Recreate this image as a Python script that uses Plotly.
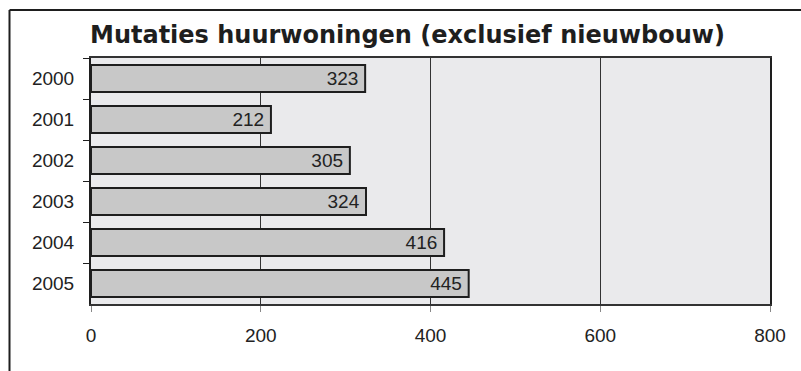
import plotly.graph_objects as go

# Data
years = ["2000", "2001", "2002", "2003", "2004", "2005"]
mutaties = [323, 212, 305, 324, 416, 445]
x_ticks = [0, 200, 400, 600, 800]

W, H = 801, 371
ML, MR, MT, MB = 91, 31, 58, 67
plot_w = W - ML - MR
plot_h = H - MT - MB


def px_to_paper_x(px):
    return (px - ML) / plot_w


def py_to_paper_y(py):
    return (H - MB - py) / plot_h


fig = go.Figure(
    go.Bar(
        y=years,
        x=mutaties,
        orientation="h",
        marker=dict(color="#C8C8C8", line=dict(color="#1E1E1E", width=2)),
        # thin trailing space keeps the value clear of the bar end
        text=[f"{v}\u2009" for v in mutaties],
        textposition="inside",
        insidetextanchor="end",
        textfont=dict(family="Liberation Sans, Arial, sans-serif", size=19, color="#222222"),
        textangle=0,
        cliponaxis=False,
        hoverinfo="skip",
    )
)

# Outer frame: top and left edges
frame_x = px_to_paper_x(9.5)
frame_top = py_to_paper_y(10)
frame_bottom = py_to_paper_y(H + 2)
frame_right = px_to_paper_x(W + 2)
fig.add_shape(type="line", xref="paper", yref="paper",
              x0=frame_x, x1=frame_right, y0=frame_top, y1=frame_top,
              line=dict(color="#1E1E1E", width=2))
fig.add_shape(type="line", xref="paper", yref="paper",
              x0=frame_x, x1=frame_x, y0=frame_top, y1=frame_bottom,
              line=dict(color="#1E1E1E", width=2))

fig.update_layout(
    width=W,
    height=H,
    margin=dict(l=ML, r=MR, t=MT, b=MB, pad=0),
    paper_bgcolor="white",
    plot_bgcolor="#EAEAEC",
    bargap=0.34,
    showlegend=False,
    title=dict(
        text="<b>Mutaties huurwoningen (exclusief nieuwbouw)</b>",
        font=dict(family="DejaVu Sans, Verdana, sans-serif", size=24, color="#1E1E1E"),
        x=90 / W,
        xanchor="left",
        xref="container",
        y=1 - 35 / H,
        yanchor="middle",
        yref="container",
    ),
    xaxis=dict(
        range=[0, 800],
        tickvals=x_ticks,
        ticktext=[str(v) for v in x_ticks],
        showgrid=True,
        gridcolor="#333333",
        gridwidth=1,
        showline=True,
        linecolor="#333333",
        linewidth=2,
        mirror=True,
        ticks="outside",
        ticklen=6,
        tickcolor="#888888",
        ticklabelstandoff=7,
        tickfont=dict(family="Liberation Sans, Arial, sans-serif", size=19, color="#222222"),
        zeroline=False,
        fixedrange=True,
    ),
    yaxis=dict(
        categoryorder="array",
        categoryarray=years,
        autorange="reversed",
        showline=True,
        linecolor="#1E1E1E",
        linewidth=2,
        mirror=True,
        ticks="outside",
        tickson="boundaries",
        ticklen=6,
        tickcolor="#1E1E1E",
        ticklabelstandoff=11,
        tickfont=dict(family="Liberation Sans, Arial, sans-serif", size=19, color="#222222"),
        showgrid=False,
        fixedrange=True,
    ),
)

fig.write_html("out.html")
